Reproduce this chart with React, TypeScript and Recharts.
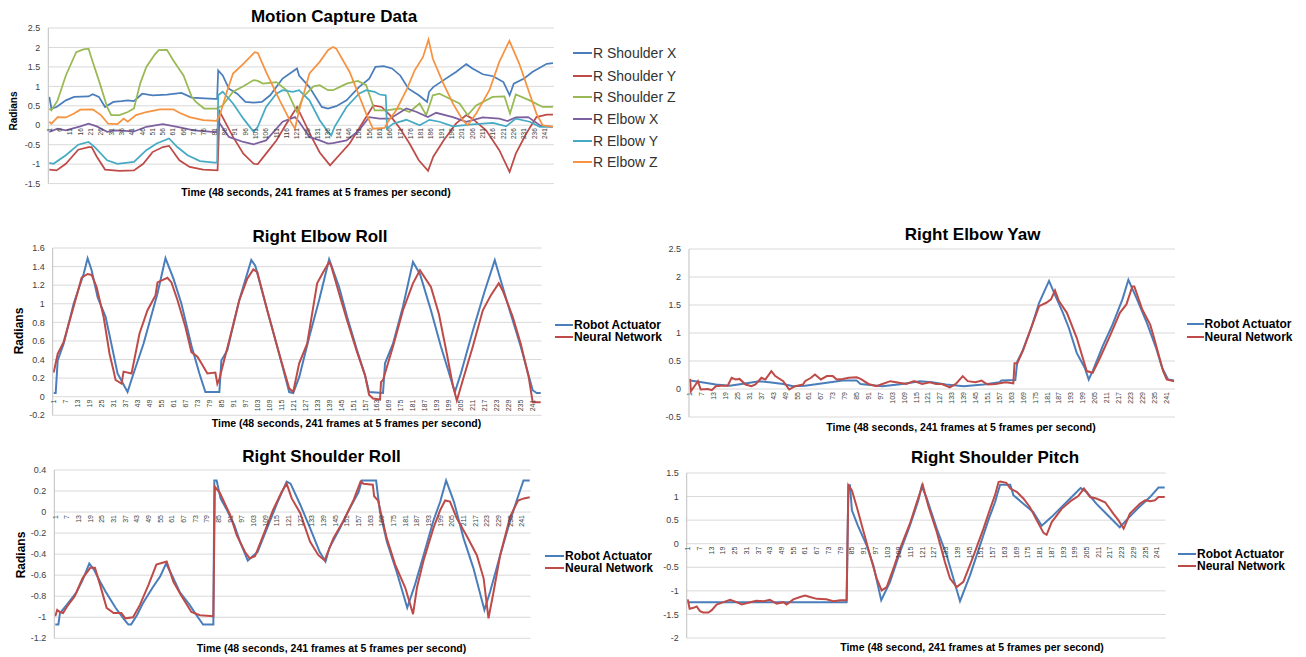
import { LineChart, Line, XAxis, YAxis, CartesianGrid } from 'recharts';

type Pt = [number, number];

// ---- Motion Capture Data (frame, radians) ----
const mocapShoulderX: Pt[] = [
  [1, 0.73], [2, 0.43], [4.5, 0.47], [9, 0.64], [13, 0.73], [20, 0.74], [22, 0.8], [25, 0.73], [28, 0.47],
  [32, 0.6], [36, 0.62], [39, 0.64], [42, 0.62], [46, 0.81], [51, 0.77], [58, 0.79], [65, 0.83], [70, 0.71],
  [74, 0.7], [81, 0.68], [82.3, 0.68], [82.8, 1.41], [85, 1.28], [88, 0.94], [92, 0.81], [96, 0.6], [100, 0.58],
  [104, 0.6], [108, 0.77], [114, 1.2], [121, 1.46], [122, 1.28], [127, 0.98], [133, 0.47], [136, 0.43],
  [140, 0.49], [145, 0.64], [151, 0.98], [156, 1.2], [159, 1.5], [163, 1.52], [167, 1.46], [171, 1.28],
  [175, 0.94], [180, 0.77], [184, 0.6], [185, 0.86], [187, 0.98], [192, 1.16], [198, 1.37], [203, 1.57],
  [206, 1.46], [211, 1.31], [216, 1.26], [221, 1.11], [224, 0.77], [226, 1.07], [231, 1.2], [235, 1.37],
  [242, 1.58], [245, 1.6],
];
const mocapShoulderY: Pt[] = [
  [1, -1.14], [4.5, -1.16], [9, -0.99], [15, -0.63], [20, -0.56], [21.5, -0.56], [24, -0.81], [28, -1.14],
  [35, -1.17], [42, -1.16], [46.5, -0.99], [51, -0.69], [56, -0.56], [59, -0.53], [64, -0.9], [69, -1.07],
  [75.5, -1.14], [82.5, -1.16], [83.5, 0.35], [90, -0.3], [95, -0.73], [100, -0.99], [102, -1.0], [106, -0.73],
  [111, -0.39], [116, 0.05], [121, 0.47], [128, -0.3], [132, -0.7], [137, -1.03], [146.5, -0.47], [154.5, 0.21],
  [158, 0.51], [162, 0.47], [166, 0.26], [171, -0.09], [175.5, -0.47], [180, -0.9], [184.5, -1.17], [187, -0.81],
  [192, -0.39], [198, 0.04], [203, 0.26], [206, 0.17], [212.6, -0.13], [219, -0.64], [224, -1.2], [227, -0.73],
  [232, -0.22], [237, 0.21], [242, 0.27], [245, 0.27],
];
const mocapShoulderZ: Pt[] = [
  [1, 0.43], [2, 0.38], [5, 0.64], [9, 1.28], [14, 1.88], [17.5, 1.95], [20, 1.97], [22, 1.63], [25.5, 1.07],
  [29, 0.47], [31, 0.26], [35, 0.26], [39, 0.34], [42, 0.43], [45, 1.07], [48, 1.5], [52, 1.81], [54, 1.93],
  [58, 1.94], [61, 1.67], [66, 1.28], [70, 0.73], [72, 0.6], [76, 0.43], [82, 0.43], [85, 0.51], [90, 0.86],
  [95, 1.0], [100, 1.16], [102, 1.14], [104.5, 1.07], [111, 1.11], [116, 0.9], [119, 0.56], [121, 0.34],
  [124, 0.73], [129, 1.0], [132, 1.03], [136, 0.9], [138.4, 0.9], [141.6, 0.98], [145, 1.07], [150.5, 1.14],
  [154.5, 1.03], [157, 0.64], [158.6, 0.38], [164, 0.38], [171, 0.43], [175.5, 0.34], [180.4, 0.56],
  [183.6, 0.26], [186.8, 0.77], [190, 0.81], [195, 0.68], [199.7, 0.56], [203.7, 0.26], [207.8, 0.51],
  [215.8, 0.73], [221.5, 0.74], [224.2, 0.3], [227, 0.79], [233.7, 0.64], [240, 0.47], [245, 0.47],
];
const mocapElbowX: Pt[] = [
  [1, -0.17], [5, -0.09], [9, -0.13], [16, -0.03], [20, 0.04], [24, -0.03], [29, -0.17], [33, -0.13],
  [42, -0.16], [48, -0.04], [56, 0.03], [63, -0.04], [71, -0.13], [80, -0.17], [82.5, -0.17], [83, 0.09],
  [88, -0.3], [95, -0.43], [100, -0.49], [106, -0.39], [114, 0.09], [120, 0.21], [122, 0.09], [127, -0.3],
  [132, -0.39], [136, -0.47], [138.4, -0.46], [145, -0.39], [151, -0.13], [156, 0.21], [161, 0.17],
  [166, 0.17], [174, 0.43], [179, 0.34], [184.4, 0.21], [188.4, 0.32], [196.5, 0.21], [203, 0.09],
  [211, 0.2], [219, 0.17], [223, 0.11], [227, 0.2], [233, 0.21], [238.6, 0.0], [245, -0.04],
];
const mocapElbowY: Pt[] = [
  [1, -0.97], [3, -0.99], [9, -0.77], [15, -0.5], [20, -0.43], [23, -0.56], [29, -0.9], [34, -0.99],
  [42, -0.94], [48, -0.64], [53, -0.47], [59, -0.34], [63, -0.56], [68, -0.77], [74, -0.92], [81, -0.96],
  [82.3, -0.96], [82.8, 0.77], [85, 0.86], [90, 0.56], [95, 0.17], [100, -0.17], [102, -0.04], [106, 0.47],
  [111, 0.81], [114, 0.9], [119, 0.86], [122, 0.9], [127, 0.64], [132, 0.13], [136, -0.17], [137.6, -0.26],
  [139.2, -0.04], [145, 0.47], [151, 0.81], [154.5, 0.9], [158.6, 0.86], [161, 0.79], [164, 0.77],
  [164.6, -0.09], [167.5, 0.04], [174, 0.14], [180.4, 0.0], [185.2, 0.14], [190, 0.09], [196.5, -0.03],
  [206, 0.02], [216, 0.06], [222.3, -0.03], [227, 0.17], [233.7, 0.09], [238.6, -0.04], [245, -0.04],
];
const mocapElbowZ: Pt[] = [
  [1, 0.09], [2, 0.04], [5, 0.21], [9, 0.2], [13, 0.3], [16, 0.4], [22, 0.41], [26, 0.26], [29.5, 0.04],
  [34, 0.03], [37, 0.17], [39, 0.09], [43, 0.26], [48, 0.34], [54.5, 0.41], [61, 0.41], [64, 0.32], [69, 0.21],
  [75.5, 0.13], [82, 0.11], [83.6, 0.26], [87, 0.86], [90, 1.33], [95, 1.58], [100.5, 1.88], [102, 1.86],
  [106, 1.37], [112.6, 0.64], [117.5, 0.13], [120, -0.09], [122, 0.38], [127, 1.33], [132, 1.63], [136, 1.93],
  [138.4, 2.01], [140, 1.97], [146.5, 1.37], [151.3, 0.73], [154.5, 0.3], [157.8, -0.09], [163.5, -0.07],
  [165, 0.09], [169, 0.38], [174, 0.9], [178, 1.41], [182, 1.75], [184.7, 2.2], [186.8, 1.71], [191.6, 1.11],
  [196.5, 0.56], [201.3, 0.13], [203.7, 0.0], [207.8, 0.3], [214.2, 0.9], [219, 1.63], [223.9, 2.17],
  [228.7, 1.58], [233.7, 0.81], [237, 0.3], [240, 0.0], [245, -0.04],
];

// ---- Right Elbow Roll ----
const elbowRollRobot: Pt[] = [
  [1, 0.04], [2, 0.04], [3, 0.39], [6, 0.57], [11, 1.0], [16, 1.32], [18, 1.49], [20, 1.36], [23, 1.07],
  [27, 0.86], [29, 0.66], [33, 0.25], [38, 0.05], [41, 0.25], [46, 0.57], [53, 1.11], [57, 1.49], [61, 1.27],
  [65, 1.0], [70, 0.55], [74, 0.25], [77, 0.05], [84, 0.05], [85, 0.39], [88, 0.5], [94, 1.04], [100, 1.47],
  [102, 1.41], [108, 0.93], [114, 0.46], [119, 0.05], [121, 0.04], [124, 0.21], [129, 0.64], [134, 1.04],
  [139, 1.48], [144, 1.18], [148, 0.86], [153, 0.5], [157, 0.23], [159, 0.05], [166, 0.04], [167, 0.36],
  [171, 0.57], [176, 0.97], [181, 1.45], [184.5, 1.32], [190, 0.93], [195, 0.54], [202, 0.05], [205, 0.25],
  [211, 0.71], [217, 1.14], [222, 1.47], [225, 1.25], [230, 0.89], [235, 0.54], [241, 0.07], [243, 0.04],
  [245, 0.04],
];
const elbowRollNet: Pt[] = [
  [1, 0.26], [3, 0.46], [6, 0.59], [11, 0.97], [15, 1.28], [18, 1.32], [20, 1.31], [22.5, 1.18], [26, 0.86],
  [29, 0.46], [31, 0.28], [32, 0.18], [35, 0.14], [36, 0.27], [40, 0.25], [44, 0.68], [48, 0.93], [52, 1.09],
  [53, 1.23], [56, 1.26], [58, 1.28], [60, 1.23], [63, 1.04], [67, 0.75], [70, 0.48], [73, 0.43], [75, 0.36],
  [78, 0.25], [82, 0.26], [83, 0.14], [84, 0.19], [89, 0.61], [94, 1.04], [98, 1.27], [101, 1.37], [103, 1.34],
  [108, 0.93], [114, 0.46], [119, 0.09], [121, 0.05], [124, 0.36], [128, 0.57], [133, 1.22], [136, 1.34],
  [139, 1.45], [140, 1.41], [144, 1.11], [148, 0.82], [153, 0.48], [157, 0.23], [159, 0.02], [161, -0.02],
  [164.5, -0.03], [165, 0.16], [166, 0.18], [171, 0.54], [176, 0.93], [181, 1.22], [184.5, 1.36], [190, 1.18],
  [194, 0.89], [198, 0.46], [201, 0.12], [203, -0.04], [206, 0.18], [211, 0.54], [216, 0.93], [220, 1.09],
  [224, 1.22], [226, 1.14], [231, 0.86], [235, 0.57], [239, 0.21], [241, -0.06], [245, -0.06],
];

// ---- Right Elbow Yaw ----
const elbowYawRobot: Pt[] = [
  [1, 0.15], [7, 0.12], [14, 0.08], [21, 0.06], [27, 0.09], [36, 0.14], [41, 0.12], [48, 0.09], [53, 0.05],
  [59, 0.06], [70, 0.11], [78, 0.15], [85, 0.15], [87, 0.09], [98, 0.05], [108, 0.09], [117, 0.14],
  [123, 0.12], [130, 0.08], [139, 0.05], [149, 0.08], [157, 0.12], [158, 0.15], [165, 0.16], [166, 0.49],
  [168.5, 0.67], [173, 1.09], [177, 1.54], [182, 1.93], [185, 1.68], [189, 1.36], [192, 1.09], [196, 0.64],
  [200, 0.38], [202, 0.17], [204, 0.32], [209, 0.76], [214, 1.15], [219, 1.6], [222, 1.95], [226, 1.63],
  [231, 1.21], [236, 0.73], [239, 0.38], [242, 0.17], [245, 0.15],
];
const elbowYawNet: Pt[] = [
  [1, 0.18], [1.5, -0.04], [5, 0.14], [6.4, -0.01], [10, 0.0], [12, -0.02], [14, 0.05], [16.5, 0.06],
  [20, 0.06], [22, 0.2], [24, 0.17], [26, 0.18], [29, 0.08], [32, 0.05], [34, 0.08], [37, 0.2], [39, 0.17],
  [42, 0.32], [44, 0.23], [48, 0.14], [51, -0.01], [54, 0.05], [58, 0.08], [59, 0.14], [62, 0.2], [64, 0.26],
  [67, 0.17], [70, 0.23], [73, 0.23], [75, 0.17], [78, 0.18], [81, 0.2], [85, 0.21], [87, 0.18], [91, 0.09],
  [95, 0.05], [98, 0.09], [102, 0.14], [106.5, 0.11], [110, 0.09], [114, 0.14], [118, 0.09], [122, 0.12],
  [125, 0.09], [128, 0.09], [132, 0.03], [135, 0.09], [138.5, 0.23], [141, 0.14], [145, 0.12], [148, 0.15],
  [151, 0.08], [155, 0.09], [160, 0.12], [162, 0.11], [164, 0.1], [164.6, 0.46], [166, 0.46], [169, 0.7],
  [173, 1.09], [177, 1.48], [180.6, 1.54], [183, 1.6], [185, 1.76], [187, 1.57], [191, 1.36], [196, 0.91],
  [201, 0.32], [204, 0.29], [207.6, 0.55], [212.6, 0.94], [217.7, 1.36], [221, 1.51], [224, 1.83], [225, 1.83],
  [229, 1.42], [233, 1.15], [234.5, 0.97], [239.5, 0.32], [241.3, 0.17], [245, 0.14],
];

// ---- Right Shoulder Roll ----
const shoulderRollRobot: Pt[] = [
  [1, -1.07], [2.6, -1.07], [3.4, -0.96], [7, -0.88], [12, -0.76], [15, -0.65], [18.5, -0.49], [21, -0.55],
  [24, -0.66], [27, -0.76], [32, -0.91], [36, -1.01], [38.6, -1.07], [40, -1.07], [43, -0.98], [46, -0.87],
  [51, -0.72], [55, -0.61], [58, -0.49], [61, -0.6], [65, -0.76], [70, -0.88], [74, -0.99], [77, -1.07],
  [82.3, -1.07], [82.8, 0.3], [84, 0.3], [86, 0.13], [89, 0.03], [93, -0.12], [96, -0.28], [100, -0.46],
  [105, -0.38], [110, -0.15], [115, 0.08], [120, 0.29], [122, 0.27], [127, 0.07], [132, -0.15], [137, -0.38],
  [140, -0.47], [142, -0.34], [147.5, -0.15], [152.6, 0.04], [157, 0.19], [158.6, 0.3], [166, 0.3], [168, 0.0],
  [171.5, -0.28], [176.6, -0.57], [182, -0.91], [186, -0.69], [190.4, -0.41], [195.5, -0.08], [199, 0.1],
  [202, 0.3], [206, 0.1], [211, -0.25], [216, -0.53], [221.7, -0.93], [224.6, -0.76], [229.8, -0.41],
  [235, -0.08], [238.3, 0.11], [241.8, 0.3], [245, 0.3],
];
const shoulderRollNet: Pt[] = [
  [1, -0.99], [2, -0.93], [3.4, -0.95], [5, -0.96], [7, -0.9], [11, -0.8], [15, -0.63], [19, -0.53],
  [21.4, -0.53], [24, -0.69], [27.4, -0.91], [31, -0.96], [35, -0.96], [37, -1.01], [41, -1.0], [44.6, -0.88],
  [49, -0.69], [53, -0.5], [56.6, -0.48], [58.3, -0.47], [61.7, -0.66], [66, -0.8], [71, -0.95], [75.4, -0.98],
  [82.3, -0.99], [83.1, 0.24], [85.7, 0.18], [91, -0.03], [94.3, -0.22], [98.6, -0.38], [101, -0.44],
  [103.7, -0.42], [108, -0.22], [113, 0.02], [117.4, 0.19], [120, 0.27], [122.6, 0.13], [127, -0.01],
  [132, -0.28], [136.3, -0.41], [139.5, -0.46], [144, -0.25], [149, -0.09], [154.3, 0.11], [158, 0.29],
  [159.5, 0.27], [164.3, 0.26], [165, 0.15], [167, 0.11], [171.5, -0.25], [175.8, -0.5], [181, -0.72],
  [182.6, -0.82], [185, -0.97], [187, -0.72], [190.4, -0.46], [195.5, -0.15], [199, 0.02], [201.5, 0.11],
  [204, 0.1], [207.5, -0.06], [212.7, -0.23], [217.8, -0.41], [221.3, -0.63], [223.8, -1.01], [226.4, -0.76],
  [229.8, -0.41], [235, -0.04], [239, 0.11], [242, 0.13], [245, 0.14],
];

// ---- Right Shoulder Pitch ----
const shoulderPitchRobot: Pt[] = [
  [1, -1.24], [82.3, -1.24], [83.2, 1.24], [84, 1.24], [85, 0.71], [88, 0.39], [92.6, -0.04], [96, -0.46],
  [100, -1.2], [104.5, -0.81], [109.6, -0.18], [114.7, 0.39], [119, 0.92], [120.7, 1.22], [123.3, 0.96],
  [128.4, 0.32], [133.5, -0.25], [140.3, -1.22], [145.4, -0.67], [150.5, -0.04], [154.8, 0.5], [158.2, 0.88],
  [160.8, 1.25], [166, 1.25], [167.6, 1.03], [172.7, 0.85], [177.8, 0.67], [182.1, 0.38], [187.2, 0.57],
  [192.3, 0.78], [197.4, 0.99], [202, 1.18], [205, 1.1], [210, 0.85], [215, 0.64], [222, 0.35], [227, 0.57],
  [232, 0.78], [237.5, 0.99], [241.8, 1.19], [245, 1.19],
];
const shoulderPitchNet: Pt[] = [
  [1, -1.18], [2, -1.38], [4, -1.36], [5.6, -1.33], [7.3, -1.43], [9, -1.46], [11.6, -1.46], [13.3, -1.41],
  [15.8, -1.29], [19.3, -1.24], [22.7, -1.19], [26, -1.24], [28.6, -1.29], [33, -1.24], [36, -1.21],
  [40, -1.22], [43, -1.19], [46.5, -1.27], [50, -1.24], [51.6, -1.29], [55, -1.18], [58.5, -1.13], [61, -1.1],
  [63.6, -1.13], [67, -1.17], [72, -1.18], [75.5, -1.22], [79, -1.2], [82.3, -1.2], [83.2, 1.24], [85, 1.13],
  [87.5, 0.78], [91, 0.25], [94.3, -0.25], [97.7, -0.74], [100.2, -0.99], [102.8, -0.92], [106.2, -0.53],
  [109.6, -0.11], [114.7, 0.43], [118, 0.85], [121.2, 1.25], [124, 0.81], [128.4, 0.25], [132.6, -0.39],
  [135.2, -0.74], [138.6, -0.92], [142, -0.81], [147, -0.28], [152.3, 0.32], [155.7, 0.74], [158.2, 1.03],
  [160, 1.31], [161, 1.32], [164, 1.29], [166, 1.17], [169.3, 1.1], [172.7, 0.96], [176, 0.78], [179.5, 0.5],
  [183, 0.23], [184.6, 0.19], [187.2, 0.46], [192.3, 0.74], [197.4, 0.92], [200.8, 1.01], [203.7, 1.17],
  [206.8, 0.99], [210, 0.96], [214.5, 0.88], [218.7, 0.64], [221.3, 0.5], [224, 0.32], [227.2, 0.64],
  [232.4, 0.85], [235, 0.92], [237.5, 0.9], [240, 0.92], [241.8, 0.99], [245, 0.99],
];

// tick labels
const mocapFrameTicks = [
  1, 6, 11, 16, 21, 26, 31, 36, 41, 46, 51, 56, 61, 66, 71, 76, 81, 86, 91, 96, 101, 106, 111, 116, 121, 126,
  131, 136, 141, 146, 151, 156, 161, 166, 171, 176, 181, 186, 191, 196, 201, 206, 211, 216, 221, 226, 231, 236, 241,
];
const frameTicks = [
  1, 7, 13, 19, 25, 31, 37, 43, 49, 55, 61, 67, 73, 79, 85, 91, 97, 103, 109, 115, 121, 127, 133, 139, 145, 151,
  157, 163, 169, 175, 181, 187, 193, 199, 205, 211, 217, 223, 229, 235, 241,
];
const mocapYTicks = [-1.5, -1, -0.5, 0, 0.5, 1, 1.5, 2, 2.5];
const elbowRollYTicks = [-0.2, 0, 0.2, 0.4, 0.6, 0.8, 1, 1.2, 1.4, 1.6];
const elbowYawYTicks = [-0.5, 0, 0.5, 1, 1.5, 2, 2.5];
const shoulderRollYTicks = [-1.2, -1, -0.8, -0.6, -0.4, -0.2, 0, 0.2, 0.4];
const shoulderPitchYTicks = [-2, -1.5, -1, -0.5, 0, 0.5, 1, 1.5];

const FONT = '"Liberation Sans", Arial, sans-serif';
const BLUE = '#4A7EBB';
const RED = '#BE4B48';

type Series = { name: string; data: Pt[]; color: string };
type Box = { l: number; t: number; r: number; b: number };

function Panel(props: {
  svgLeft: number;
  plot: Box;
  yDomain: [number, number];
  yTicks: number[];
  xTicks: number[];
  series: Series[];
  xFont: number;
  strokeWidth: number;
}) {
  const { svgLeft, plot, yDomain, yTicks, xTicks, series, xFont, strokeWidth } = props;
  const padTop = 10;
  const top = plot.t - padTop;
  const height = plot.b - top + 10;
  const width = plot.r - svgLeft + 6;
  const plotH = plot.b - plot.t;
  const zeroY = padTop + (plotH * yDomain[1]) / (yDomain[1] - yDomain[0]);

  const renderXTick = (p: any) => (
    <text
      transform={`translate(${p.x},${zeroY + 3}) rotate(-90)`}
      textAnchor="end"
      dy="0.35em"
      fontSize={xFont}
      fontFamily={FONT}
      fill="#404040"
    >
      {p.payload.value}
    </text>
  );

  return (
    <div style={{ position: 'absolute', left: svgLeft, top }}>
      <LineChart width={width} height={height} margin={{ top: padTop, right: 6, bottom: 0, left: 0 }}>
        <CartesianGrid vertical={false} stroke="#D9D9D9" />
        <XAxis
          type="number"
          dataKey="f"
          domain={[0.5, 245.5]}
          ticks={xTicks}
          interval={0}
          height={10}
          axisLine={false}
          tickLine={false}
          tick={renderXTick}
          allowDataOverflow
        />
        <YAxis
          type="number"
          domain={yDomain}
          ticks={yTicks}
          interval={0}
          width={plot.l - svgLeft}
          axisLine={{ stroke: '#BFBFBF' }}
          tickLine={false}
          tickSize={0}
          tickMargin={8}
          tick={{ fontSize: 9, fill: '#404040', fontFamily: FONT }}
          allowDataOverflow
        />
        {series.map((s) => (
          <Line
            key={s.name}
            data={s.data.map(([f, v]) => ({ f, v }))}
            dataKey="v"
            name={s.name}
            type="linear"
            stroke={s.color}
            strokeWidth={strokeWidth}
            dot={false}
            activeDot={false}
            isAnimationActive={false}
          />
        ))}
      </LineChart>
    </div>
  );
}

function Text(props: { x: number; y: number; size: number; bold?: boolean; rotate?: boolean; children: any }) {
  return (
    <div
      style={{
        position: 'absolute',
        left: props.x,
        top: props.y,
        transform: `translate(-50%,-50%)${props.rotate ? ' rotate(-90deg)' : ''}`,
        whiteSpace: 'nowrap',
        fontFamily: FONT,
        fontSize: props.size,
        fontWeight: props.bold ? 'bold' : 'normal',
        color: '#000',
        lineHeight: 1,
      }}
    >
      {props.children}
    </div>
  );
}

function Legend(props: { series: Series[]; x: number; lineLen: number; ys: number[]; size: number; bold: boolean; color: string }) {
  return (
    <>
      {props.series.map((s, i) => (
        <div key={s.name}>
          <div
            style={{
              position: 'absolute',
              left: props.x,
              top: props.ys[i] - 1,
              width: props.lineLen,
              height: 2,
              background: s.color,
            }}
          />
          <div
            style={{
              position: 'absolute',
              left: props.x + props.lineLen + 1,
              top: props.ys[i],
              transform: 'translateY(-50%)',
              whiteSpace: 'nowrap',
              fontFamily: FONT,
              fontSize: props.size,
              fontWeight: props.bold ? 'bold' : 'normal',
              color: props.color,
              lineHeight: 1,
            }}
          >
            {s.name}
          </div>
        </div>
      ))}
    </>
  );
}

const mocapSeries: Series[] = [
  { name: 'R Shoulder X', data: mocapShoulderX, color: '#4A7EBB' },
  { name: 'R Shoulder Y', data: mocapShoulderY, color: '#BE4B48' },
  { name: 'R Shoulder Z', data: mocapShoulderZ, color: '#98B954' },
  { name: 'R Elbow X', data: mocapElbowX, color: '#7D60A0' },
  { name: 'R Elbow Y', data: mocapElbowY, color: '#46AAC5' },
  { name: 'R Elbow Z', data: mocapElbowZ, color: '#F69240' },
];

const pair = (robot: Pt[], net: Pt[]): Series[] => [
  { name: 'Robot Actuator', data: robot, color: BLUE },
  { name: 'Neural Network', data: net, color: RED },
];

const TIME_LABEL = 'Time (48 seconds, 241 frames at 5 frames per second)';

export default function App() {
  return (
    <div style={{ position: 'absolute', left: 0, top: 0, width: 1306, height: 657, background: '#fff', overflow: 'hidden' }}>
      {/* Motion capture */}
      <Text x={334} y={16} size={17} bold>Motion Capture Data</Text>
      <Panel
        svgLeft={0}
        plot={{ l: 48.3, t: 27.7, r: 554, b: 183.3 }}
        yDomain={[-1.5, 2.5]}
        yTicks={mocapYTicks}
        xTicks={mocapFrameTicks}
        series={mocapSeries}
        xFont={6.5}
        strokeWidth={1.75}
      />
      <Text x={14} y={111} size={10} bold rotate>Radians</Text>
      <Text x={316} y={192} size={10.5} bold>{TIME_LABEL}</Text>
      <Legend series={mocapSeries} x={573} lineLen={19} ys={[53.3, 75.5, 97, 118.7, 140.5, 162]} size={14} bold={false} color="#333" />

      {/* Right Elbow Roll */}
      <Text x={320} y={235.5} size={17} bold>Right Elbow Roll</Text>
      <Panel
        svgLeft={0}
        plot={{ l: 52.7, t: 247.7, r: 541.7, b: 415 }}
        yDomain={[-0.2, 1.6]}
        yTicks={elbowRollYTicks}
        xTicks={frameTicks}
        series={pair(elbowRollRobot, elbowRollNet)}
        xFont={7}
        strokeWidth={2}
      />
      <Text x={18.5} y={330.5} size={12} bold rotate>Radians</Text>
      <Text x={346.5} y={422.5} size={10.5} bold>{TIME_LABEL}</Text>
      <Legend series={pair(elbowRollRobot, elbowRollNet)} x={555} lineLen={18} ys={[325, 337]} size={12} bold color="#000" />

      {/* Right Elbow Yaw */}
      <Text x={972.5} y={234} size={17} bold>Right Elbow Yaw</Text>
      <Panel
        svgLeft={660}
        plot={{ l: 689, t: 249.3, r: 1175, b: 417.3 }}
        yDomain={[-0.5, 2.5]}
        yTicks={elbowYawYTicks}
        xTicks={frameTicks}
        series={pair(elbowYawRobot, elbowYawNet)}
        xFont={7}
        strokeWidth={2}
      />
      <Text x={961} y={426.5} size={10.5} bold>{TIME_LABEL}</Text>
      <Legend series={pair(elbowYawRobot, elbowYawNet)} x={1186.5} lineLen={17} ys={[324.3, 336.7]} size={12} bold color="#000" />

      {/* Right Shoulder Roll */}
      <Text x={321.5} y={456} size={17} bold>Right Shoulder Roll</Text>
      <Panel
        svgLeft={0}
        plot={{ l: 54.3, t: 470, r: 530.7, b: 638.3 }}
        yDomain={[-1.2, 0.4]}
        yTicks={shoulderRollYTicks}
        xTicks={frameTicks}
        series={pair(shoulderRollRobot, shoulderRollNet)}
        xFont={7}
        strokeWidth={2}
      />
      <Text x={20.5} y={555} size={12} bold rotate>Radians</Text>
      <Text x={331.5} y={648} size={10.5} bold>{TIME_LABEL}</Text>
      <Legend series={pair(shoulderRollRobot, shoulderRollNet)} x={545} lineLen={19} ys={[555.7, 568]} size={12} bold color="#000" />

      {/* Right Shoulder Pitch */}
      <Text x={995} y={457} size={17} bold>Right Shoulder Pitch</Text>
      <Panel
        svgLeft={660}
        plot={{ l: 686.7, t: 472.7, r: 1165.7, b: 637.7 }}
        yDomain={[-2, 1.5]}
        yTicks={shoulderPitchYTicks}
        xTicks={frameTicks}
        series={pair(shoulderPitchRobot, shoulderPitchNet)}
        xFont={7}
        strokeWidth={2}
      />
      <Text x={972} y={646.5} size={10.5} bold>Time (48 second, 241 frames at 5 frames per second)</Text>
      <Legend series={pair(shoulderPitchRobot, shoulderPitchNet)} x={1178} lineLen={18} ys={[554, 566]} size={12} bold color="#000" />
    </div>
  );
}
